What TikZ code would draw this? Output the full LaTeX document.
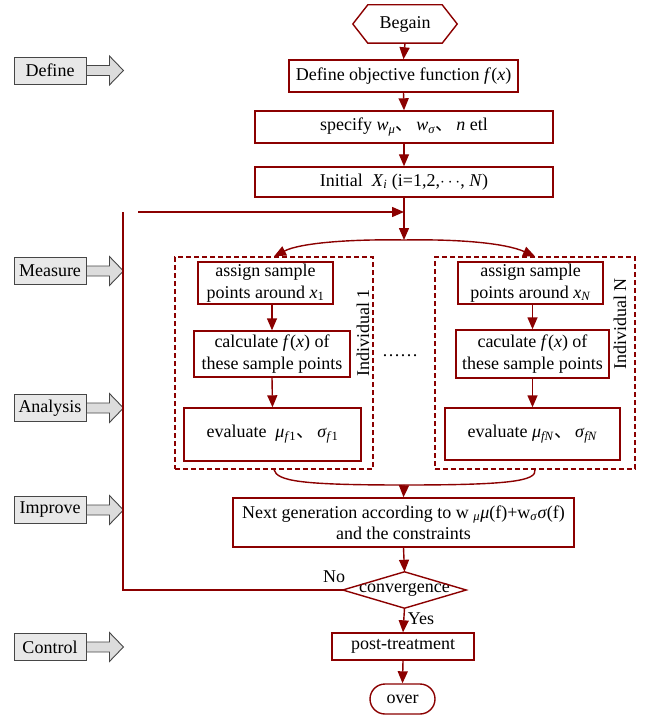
\documentclass[tikz,border=0pt]{standalone}
\usepackage{fontspec}
\setmainfont{Liberation Serif}
\newfontfamily\cjkf{Noto Sans CJK SC}
\usetikzlibrary{arrows.meta}
\definecolor{dr}{RGB}{139,0,0}
\definecolor{pfill}{RGB}{232,232,232}
\definecolor{afill}{RGB}{220,220,220}
\definecolor{pline}{RGB}{70,70,70}
\newcommand\dun{{\cjkf 、}}
\begin{document}
\begin{tikzpicture}[x=1pt,y=-1pt,
  every node/.style={font=\fontsize{18}{21.5}\selectfont, inner sep=0pt, align=center},
  box/.style={draw=dr, line width=1.4pt, fill=white},
  dbox/.style={draw=dr, line width=1.3pt, dash pattern=on 5pt off 3pt},
  conn/.style={draw=dr, line width=1.4pt},
  arr/.style={conn, -{Triangle[length=12pt,width=10pt]}},
  phase/.style={draw=pline, fill=pfill, line width=0.9pt, minimum width=72pt, minimum height=27pt},
  parrow/.style={draw=pline, fill=afill, line width=0.9pt}
]
\useasboundingbox (0,0) rectangle (651,719);

% phases
\foreach \n/\t/\y in {pd/Define/70.5, pm/Measure/271, pa/Analysis/408, pi/Improve/510, pc/Control/647}{
  \node[phase] (\n) at (50,\y) {\t};
  \draw[parrow] (\n.east) ++(0,-5) -- ++(23,0) -- ++(0,-9.5) -- ++(14,14.5) -- ++(-14,14.5) -- ++(0,-9.5) -- ++(-23,0) -- cycle;
}

% main chain
\node[minimum width=74pt, minimum height=38pt] (begin) at (405,24) {Begain};
\draw[conn] ([xshift=-15pt]begin.west) -- (begin.north west) -- (begin.north east) -- ([xshift=15pt]begin.east) -- (begin.south east) -- (begin.south west) -- cycle;

\node[box, minimum width=229pt, minimum height=32pt] (def) at (403.5,76) {Define objective function \textit{f}(\textit{x})};
\node[box, minimum width=298pt, minimum height=32pt] (spec) at (404,127) {specify \textit{w}\textsubscript{\textit{μ}}\dun\,\textit{w}\textsubscript{\textit{σ}}\dun\,\textit{n} etl};
\node[box, minimum width=298pt, minimum height=30pt] (init) at (404,182) {Initial\ \ \textit{X}\textsubscript{\textit{i}} (i=1,2,$\cdots$, \textit{N})};

\draw[arr] (begin.south) -- (def.north);
\draw[arr] (def.south) -- (spec.north);
\draw[arr] (spec.south) -- (init.north);

\coordinate (split) at (404,240);
\coordinate (loopc) at (123,212);
\coordinate (loopstart) at (138,212);
\coordinate (junc) at (404,212);
\draw[arr] (init.south) -- (split);
\draw[arr] (loopstart) -- (junc);

% dashed groups
\node[dbox, minimum width=198pt, minimum height=212pt] (d1) at (274,363) {};
\node[dbox, minimum width=200pt, minimum height=212pt] (dN) at (535,363) {};

\draw[arr] (split) .. controls (350,239) and (300,243) .. (d1.north);
\draw[arr] (split) .. controls (458,239) and (505,243) .. (dN.north);

\node[box, minimum width=135pt, minimum height=42pt] (a1) at (265.5,283) {assign sample\\points around \textit{x}\textsubscript{1}};
\node[box, minimum width=156pt, minimum height=46pt] (c1) at (272,354) {calculate \textit{f}(\textit{x}) of\\these sample points};
\node[box, minimum width=177pt, minimum height=53pt] (e1) at (272.5,434.5) {evaluate\ \ \textit{μ}\textsubscript{\textit{f}1}\dun\,\textit{σ}\textsubscript{\textit{f}1}};
\node[rotate=90] (ind1) at (363,333) {Individual 1};
\draw[arr] (a1.south -| c1.north) -- (c1.north);
\draw[arr] (c1.south) -- (e1.north);

\node[box, minimum width=145pt, minimum height=42pt] (aN) at (530.5,283) {assign sample\\points around \textit{x}\textsubscript{\textit{N}}};
\node[box, minimum width=153pt, minimum height=48pt] (cN) at (532.5,354) {caculate \textit{f}(\textit{x}) of\\these sample points};
\node[box, minimum width=175pt, minimum height=52pt] (eN) at (532.5,434) {evaluate \textit{μ}\textsubscript{\textit{fN}}\dun\,\textit{σ}\textsubscript{\textit{fN}}};
\node[rotate=90] (indN) at (620,324) {Individual N};
\draw[arr] (aN.south -| cN.north) -- (cN.north);
\draw[arr] (cN.south) -- (eN.north);

\node (dots) at (400,356) {……};

% merge
\coordinate (merge) at (404,485);
\node[box, minimum width=341pt, minimum height=49pt] (next) at (403.5,522.5) {Next generation according to w \textsubscript{\textit{μ}}\textit{μ}(f)+w\textsubscript{\textit{σ}}\textit{σ}(f)\\and the constraints};
\draw[conn] (d1.south) .. controls (277,481) and (300,485) .. (merge);
\draw[conn] (dN.south) .. controls (537,481) and (510,485) .. (merge);
\draw[arr] (merge) -- (next.north);

% convergence
\node[minimum width=123pt, minimum height=36pt] (conv) at (404.5,590) {convergence};
\draw[conn] (conv.west) -- (conv.north) -- (conv.east) -- (conv.south) -- cycle;
\draw[arr] (next.south) -- (conv.north);
\node (no) at (334,577) {No};
\draw[conn] (conv.west) -| (loopc);

\node[box, minimum width=142pt, minimum height=27pt] (post) at (403,646.5) {post-treatment};
\node (yes) at (421,619) {Yes};
\draw[arr] (conv.south) -- (post.north);

\node[box, rounded corners=15pt, minimum width=65pt, minimum height=30pt] (over) at (402.5,699) {over};
\draw[arr] (post.south) -- (over.north);
\end{tikzpicture}
\end{document}
